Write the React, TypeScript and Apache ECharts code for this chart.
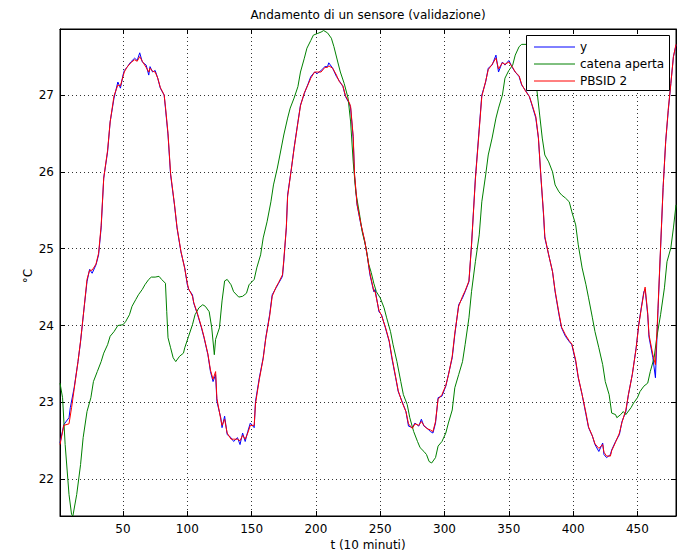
import React, { useEffect, useRef } from "react";
import * as echarts from "echarts";

const titleText = "Andamento di un sensore (validazione)";
const xName = "t (10 minuti)";
const yName = "°C";
const seriesNames = ["y", "catena aperta", "PBSID 2"];
const xTicks = [50, 100, 150, 200, 250, 300, 350, 400, 450];
const yTicks = [22, 23, 24, 25, 26, 27];

// measured output y
const measured: [number, number][] = [
  [1, 22.47], [4, 22.71], [8, 22.8], [9, 22.93], [12, 23.19], [15, 23.53], [17, 23.79], [20, 24.27],
  [22, 24.57], [24, 24.73], [26, 24.68], [29, 24.79], [31, 24.92], [33, 25.27], [35, 25.92], [38, 26.26],
  [40, 26.65], [43, 26.96], [46, 27.17], [48, 27.09], [50, 27.26], [51, 27.32], [53, 27.36], [56, 27.43],
  [59, 27.48], [61, 27.45], [63, 27.55], [65, 27.43], [68, 27.39], [70, 27.26], [71, 27.37], [73, 27.3],
  [75, 27.32], [77, 27.22], [79, 27.09], [82, 27.0], [83, 26.83], [85, 26.48], [87, 25.96], [90, 25.57],
  [92, 25.27], [95, 24.96], [98, 24.75], [100, 24.53], [101, 24.47], [104, 24.4], [105, 24.29], [108, 24.14],
  [111, 23.97], [113, 23.84], [116, 23.62], [118, 23.4], [120, 23.27], [122, 23.36], [123, 23.01], [126, 22.8],
  [127, 22.67], [129, 22.82], [131, 22.58], [134, 22.54], [136, 22.49], [139, 22.54], [141, 22.45], [143, 22.6],
  [145, 22.49], [147, 22.62], [149, 22.73], [152, 22.67], [153, 23.01], [156, 23.32], [159, 23.58], [161, 23.84],
  [164, 24.14], [166, 24.4], [169, 24.49], [171, 24.55], [174, 24.64], [175, 24.83], [177, 25.27], [178, 25.7],
  [181, 26.05], [183, 26.31], [186, 26.65], [188, 26.87], [191, 27.02], [194, 27.15], [196, 27.24], [199, 27.3],
  [201, 27.28], [204, 27.32], [207, 27.37], [209, 27.37], [210, 27.42], [213, 27.35], [216, 27.24], [218, 27.19],
  [221, 27.11], [223, 26.98], [226, 26.89], [227, 26.83], [229, 26.44], [230, 25.96], [232, 25.57], [235, 25.31],
  [238, 25.09], [240, 24.9], [242, 24.66], [245, 24.44], [246, 24.47], [249, 24.18], [251, 24.14], [254, 23.97],
  [257, 23.79], [259, 23.58], [262, 23.32], [264, 23.14], [267, 23.01], [270, 22.88], [272, 22.69], [275, 22.67],
  [277, 22.73], [280, 22.69], [282, 22.78], [284, 22.69], [286, 22.67], [289, 22.62], [291, 22.6], [293, 22.73],
  [295, 23.06], [298, 23.08], [301, 23.21], [303, 23.36], [306, 23.58], [308, 23.88], [311, 24.27], [314, 24.36],
  [316, 24.44], [319, 24.57], [321, 25.05], [324, 25.92], [327, 26.57], [329, 27.0], [332, 27.17], [334, 27.35],
  [337, 27.39], [340, 27.52], [342, 27.3], [345, 27.43], [347, 27.39], [350, 27.45], [353, 27.35], [355, 27.3],
  [358, 27.24], [360, 27.13], [363, 27.06], [366, 26.98], [368, 26.87], [371, 26.7], [373, 26.44], [375, 25.92],
  [377, 25.44], [378, 25.14], [381, 24.92], [384, 24.7], [386, 24.44], [389, 24.14], [391, 23.97], [394, 23.86],
  [397, 23.79], [399, 23.75], [402, 23.53], [404, 23.32], [407, 23.1], [410, 22.84], [412, 22.67], [415, 22.56],
  [417, 22.45], [420, 22.36], [423, 22.47], [424, 22.32], [426, 22.28], [429, 22.32], [430, 22.38], [433, 22.49],
  [436, 22.58], [438, 22.75], [441, 22.88], [443, 23.1], [446, 23.36], [449, 23.71], [451, 24.01], [453, 24.23],
  [455, 24.44], [456, 24.47], [458, 24.14], [459, 23.85], [462, 23.58], [464, 23.32], [466, 24.2], [468, 25.0],
  [470, 25.8], [472, 26.4], [474, 26.8], [476, 27.15], [478, 27.5], [480, 27.65],
];

// open-loop simulation ("catena aperta")
const openLoop: [number, number][] = [
  [1, 23.25], [3, 23.06], [5, 22.45], [8, 21.8], [10, 21.54], [11, 21.52], [14, 21.8], [17, 22.19],
  [19, 22.54], [22, 22.88], [25, 23.06], [27, 23.27], [30, 23.4], [33, 23.53], [35, 23.64], [38, 23.75],
  [40, 23.86], [43, 23.92], [46, 24.0], [50, 24.01], [52, 24.05], [55, 24.14], [57, 24.25], [60, 24.34],
  [62, 24.4], [65, 24.47], [67, 24.53], [70, 24.6], [72, 24.63], [75, 24.63], [78, 24.64], [80, 24.6],
  [83, 24.55], [84, 24.18], [85, 23.84], [87, 23.71], [89, 23.58], [91, 23.53], [94, 23.6], [97, 23.64],
  [98, 23.71], [101, 23.86], [104, 24.01], [106, 24.14], [109, 24.23], [112, 24.27], [114, 24.25], [117, 24.18],
  [119, 23.97], [121, 23.62], [122, 23.82], [125, 23.97], [127, 24.32], [129, 24.58], [131, 24.6], [134, 24.53],
  [136, 24.44], [140, 24.37], [143, 24.38], [146, 24.42], [148, 24.53], [152, 24.6], [154, 24.75], [157, 24.92],
  [159, 25.14], [162, 25.35], [165, 25.61], [167, 25.83], [170, 26.05], [172, 26.22], [175, 26.48], [178, 26.7],
  [180, 26.83], [183, 26.96], [186, 27.11], [188, 27.3], [191, 27.48], [193, 27.61], [196, 27.71], [198, 27.78],
  [201, 27.8], [204, 27.82], [206, 27.84], [209, 27.81], [212, 27.74], [214, 27.63], [217, 27.43], [219, 27.3],
  [222, 27.15], [225, 26.96], [227, 26.65], [229, 26.13], [231, 25.74], [234, 25.44], [236, 25.22], [239, 25.01],
  [241, 24.8], [243, 24.69], [245, 24.55], [247, 24.44], [250, 24.36], [253, 24.23], [255, 24.1], [258, 23.92],
  [260, 23.75], [263, 23.53], [266, 23.27], [268, 23.1], [271, 22.97], [273, 22.8], [276, 22.62], [279, 22.49],
  [281, 22.41], [284, 22.36], [286, 22.32], [288, 22.23], [290, 22.21], [293, 22.28], [295, 22.43], [298, 22.49],
  [301, 22.6], [303, 22.73], [306, 22.9], [308, 23.19], [311, 23.36], [314, 23.53], [316, 23.75], [319, 24.1],
  [321, 24.44], [324, 24.83], [327, 25.18], [329, 25.61], [332, 25.96], [334, 26.22], [337, 26.44], [340, 26.7],
  [342, 26.83], [345, 27.0], [347, 27.22], [350, 27.32], [353, 27.39], [355, 27.52], [358, 27.63], [360, 27.66],
  [364, 27.66], [367, 27.55], [369, 27.35], [372, 27.04], [374, 26.74], [376, 26.44], [378, 26.22], [381, 26.13],
  [384, 26.0], [386, 25.83], [389, 25.74], [391, 25.7], [394, 25.66], [397, 25.61], [399, 25.48], [402, 25.31],
  [404, 25.05], [407, 24.75], [410, 24.53], [412, 24.36], [415, 24.1], [417, 23.92], [420, 23.71], [423, 23.49],
  [425, 23.27], [428, 23.1], [430, 22.86], [433, 22.84], [434, 22.8], [437, 22.84], [439, 22.88], [441, 22.84],
  [445, 22.93], [447, 22.99], [450, 23.06], [452, 23.14], [455, 23.21], [458, 23.25], [460, 23.4], [463, 23.58],
  [465, 23.84], [468, 24.14], [471, 24.49], [473, 24.83], [476, 25.01], [478, 25.27], [480, 25.57],
];

// PBSID 2 model output
const pbsid: [number, number][] = [
  [1, 22.45], [4, 22.7], [8, 22.72], [10, 22.93], [12, 23.17], [15, 23.53], [17, 23.8], [20, 24.27],
  [22, 24.6], [24, 24.72], [26, 24.72], [29, 24.8], [31, 24.94], [33, 25.3], [35, 25.92], [38, 26.28],
  [40, 26.65], [43, 26.99], [46, 27.13], [48, 27.12], [50, 27.24], [51, 27.3], [53, 27.36], [56, 27.42],
  [59, 27.46], [61, 27.44], [63, 27.5], [65, 27.44], [68, 27.36], [70, 27.3], [71, 27.35], [73, 27.31],
  [75, 27.3], [77, 27.22], [79, 27.1], [82, 27.0], [83, 26.85], [85, 26.5], [87, 25.98], [90, 25.58],
  [92, 25.28], [95, 24.97], [98, 24.74], [100, 24.55], [101, 24.48], [104, 24.38], [105, 24.3], [108, 24.15],
  [111, 23.98], [113, 23.85], [116, 23.63], [118, 23.42], [120, 23.3], [122, 23.4], [123, 23.05], [126, 22.78],
  [127, 22.7], [129, 22.78], [131, 22.6], [134, 22.52], [136, 22.52], [139, 22.52], [141, 22.5], [143, 22.57],
  [145, 22.52], [147, 22.6], [149, 22.7], [152, 22.7], [153, 22.98], [156, 23.3], [159, 23.57], [161, 23.83],
  [164, 24.12], [166, 24.38], [169, 24.5], [171, 24.56], [174, 24.66], [175, 24.85], [177, 25.28], [178, 25.68],
  [181, 26.05], [183, 26.3], [186, 26.64], [188, 26.86], [191, 27.03], [194, 27.14], [196, 27.22], [199, 27.3],
  [201, 27.3], [204, 27.3], [207, 27.36], [209, 27.36], [210, 27.38], [213, 27.35], [216, 27.26], [218, 27.18],
  [221, 27.12], [223, 26.99], [226, 26.9], [227, 26.85], [229, 26.46], [230, 25.98], [232, 25.58], [235, 25.32],
  [238, 25.1], [240, 24.9], [242, 24.68], [245, 24.45], [246, 24.44], [249, 24.2], [251, 24.13], [254, 23.98],
  [257, 23.8], [259, 23.6], [262, 23.33], [264, 23.15], [267, 23.0], [270, 22.88], [272, 22.72], [275, 22.66],
  [277, 22.72], [280, 22.7], [282, 22.75], [284, 22.7], [286, 22.66], [289, 22.64], [291, 22.62], [293, 22.75],
  [295, 23.04], [298, 23.1], [301, 23.22], [303, 23.35], [306, 23.6], [308, 23.9], [311, 24.25], [314, 24.38],
  [316, 24.45], [319, 24.58], [321, 25.05], [324, 25.9], [327, 26.55], [329, 26.98], [332, 27.18], [334, 27.33],
  [337, 27.4], [340, 27.48], [342, 27.34], [345, 27.42], [347, 27.4], [350, 27.43], [353, 27.36], [355, 27.3],
  [358, 27.25], [360, 27.14], [363, 27.05], [366, 26.98], [368, 26.88], [371, 26.72], [373, 26.45], [375, 25.93],
  [377, 25.46], [378, 25.16], [381, 24.92], [384, 24.7], [386, 24.45], [389, 24.16], [391, 23.98], [394, 23.88],
  [397, 23.8], [399, 23.76], [402, 23.55], [404, 23.33], [407, 23.1], [410, 22.86], [412, 22.68], [415, 22.56],
  [417, 22.46], [420, 22.4], [423, 22.45], [424, 22.35], [426, 22.3], [429, 22.3], [430, 22.37], [433, 22.48],
  [436, 22.6], [438, 22.74], [441, 22.9], [443, 23.1], [446, 23.36], [449, 23.7], [451, 24.0], [453, 24.22],
  [455, 24.42], [456, 24.5], [458, 24.16], [459, 23.88], [462, 23.62], [464, 23.49], [466, 24.22], [468, 25.02],
  [470, 25.8], [472, 26.4], [474, 26.82], [476, 27.15], [478, 27.5], [480, 27.66],
];

const colors = ["#0000ff", "#008000", "#ff0000"];
const FONT = "DejaVu Sans, Liberation Sans, Arial, sans-serif";

export default function App() {
  const ref = useRef<HTMLDivElement>(null);
  useEffect(() => {
    document.body.style.margin = "0";
    const chart = echarts.init(ref.current!, null, { renderer: "svg" });
    const mkX = (pos: "bottom" | "top", main: boolean) => ({
      type: "value",
      min: 1,
      max: 480,
      position: pos,
      axisLine: { show: true, onZero: false, lineStyle: { color: "#000", width: 1 } },
      axisTick: { show: true, inside: true, length: 5, customValues: xTicks, lineStyle: { color: "#000" } },
      axisLabel: { show: main, customValues: xTicks, color: "#000", fontSize: 12, margin: 7, fontFamily: FONT },
      splitLine: { show: main, lineStyle: { color: "#333", type: [1, 3], width: 1 } },
    });
    const mkY = (pos: "left" | "right", main: boolean) => ({
      type: "value",
      min: 21.52,
      max: 27.86,
      position: pos,
      axisLine: { show: true, onZero: false, lineStyle: { color: "#000", width: 1 } },
      axisTick: { show: true, inside: true, length: 5, customValues: yTicks, lineStyle: { color: "#000" } },
      axisLabel: { show: main, customValues: yTicks, color: "#000", fontSize: 12, margin: 6, fontFamily: FONT },
      splitLine: { show: main, lineStyle: { color: "#333", type: [1, 3], width: 1 } },
    });
    const datas = [measured, openLoop, pbsid];
    const legendRows = [47, 64, 81];
    chart.setOption({
      animation: false,
      backgroundColor: "#fff",
      textStyle: { fontFamily: FONT },
      grid: { left: 60, top: 29, right: 8, bottom: 38, show: true, borderColor: "#000", borderWidth: 1, backgroundColor: "#fff" },
      xAxis: [mkX("bottom", true), mkX("top", false)],
      yAxis: [mkY("left", true), mkY("right", false)],
      series: seriesNames.map((n, i) => ({
        name: n,
        type: "line",
        data: datas[i],
        showSymbol: false,
        symbol: "none",
        lineStyle: { color: colors[i], width: 1 },
        itemStyle: { color: colors[i] },
        z: 2 + i,
      })),
      graphic: [
        { type: "text", x: 368, y: 15, z: 100, style: { text: titleText, fill: "#000", font: `12px ${FONT}`, textAlign: "center", textVerticalAlign: "middle" } },
        { type: "text", x: 368, y: 545, z: 100, style: { text: xName, fill: "#000", font: `12px ${FONT}`, textAlign: "center", textVerticalAlign: "middle" } },
        { type: "text", x: 28, y: 276, rotation: Math.PI / 2, z: 100, style: { text: yName, fill: "#000", font: `12px ${FONT}`, textAlign: "center", textVerticalAlign: "middle" } },
        { type: "rect", z: 100, shape: { x: 526.5, y: 35.5, width: 143, height: 55 }, style: { fill: "#fff", stroke: "#000", lineWidth: 1 } },
        ...seriesNames.flatMap((n, i) => [
          { type: "line", z: 101, shape: { x1: 534, y1: legendRows[i], x2: 575, y2: legendRows[i] }, style: { stroke: colors[i], lineWidth: 1 } },
          { type: "text", z: 101, x: 580, y: legendRows[i], style: { text: n, fill: "#000", font: `12px ${FONT}`, textAlign: "left", textVerticalAlign: "middle" } },
        ]),
      ],
    });
    return () => chart.dispose();
  }, []);
  return <div ref={ref} style={{ width: 684, height: 554 }} />;
}
